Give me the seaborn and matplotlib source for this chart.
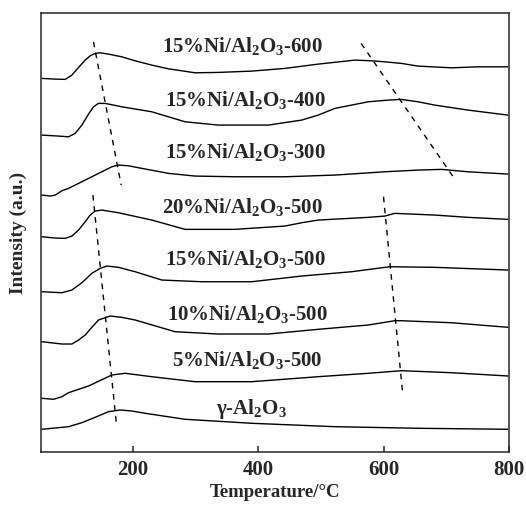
import numpy as np
import pandas as pd
import matplotlib
matplotlib.use('Agg')
import matplotlib.pyplot as plt
import seaborn as sns

# curves (T in degC, intensity in a.u., already offset for stacking)
t_600 = [54.4, 75.7, 91.6, 102.2, 112.9, 123.5, 131.4, 139.4, 147.4, 160.7, 181.9, 203.2, 229.7, 256.3,
         298.8, 336, 389.1, 442.2, 495.3, 553.8, 580.3, 601.6, 628.1, 654.7, 707.8, 750.3, 798.1]
i_600 = [373.7, 373, 372.7, 377, 384.7, 392, 396.3, 398.7, 399.3, 398, 395.3, 391.3, 387, 383.3,
         379.3, 379.7, 381, 383.7, 388, 392, 391.3, 390.3, 388.7, 386, 384.3, 385.3, 385.3]

t_400 = [54.4, 81, 96.9, 107.5, 118.2, 128.8, 136.8, 144.7, 155.4, 181.9, 229.7, 282.8, 336, 415.6,
         468.8, 495.3, 521.9, 548.4, 575, 606.9, 628.1, 654.7, 681.2, 734.4, 798.1]
i_400 = [317, 316, 315.3, 318.7, 327, 338, 345.3, 348.7, 348.7, 345.3, 340.3, 330.3, 327, 327,
         332, 337, 343.7, 347, 350.3, 352, 352.7, 350.3, 347, 342, 337]

t_300 = [54.4, 67.7, 75.7, 86.3, 96.9, 123.5, 150, 166, 176.6, 192.5, 213.8, 256.3, 298.8, 362.5,
         442.2, 521.9, 601.6, 654.7, 691.9, 734.4, 798.1]
i_300 = [257, 256, 257, 261.3, 263.7, 272, 280.3, 285.3, 287, 286.3, 283.7, 278.7, 276, 275.3,
         275.3, 277, 280.3, 282, 282.7, 280.3, 278]

t_20_500 = [54.4, 75.7, 91.6, 102.2, 112.9, 123.5, 131.4, 139.4, 150, 176.6, 229.7, 282.8, 362.5,
            442.2, 468.8, 495.3, 575, 601.6, 617.5, 681.2, 734.4, 798.1]
i_20_500 = [215.3, 214, 213.7, 216, 222, 230.3, 237, 241, 242, 239.3, 232, 222.7, 222.7,
            226, 229.3, 232, 234.7, 236, 238.7, 237, 234.7, 232.7]

t_15_500 = [54.4, 86.3, 102.2, 118.2, 134.1, 147.4, 158, 176.6, 203.2, 245.7, 309.4, 389.1, 468.8,
            548.4, 609.5, 681.2, 798.1]
i_15_500 = [160.3, 159.3, 162, 169.3, 178.7, 183.7, 186, 184.7, 180.3, 172, 170.3, 170.3, 176,
            180.3, 185.3, 184.7, 182]

t_10_500 = [54.4, 86.3, 102.2, 112.9, 123.5, 134.1, 144.7, 163.3, 181.9, 203.2, 266.9, 336, 415.6,
            495.3, 575, 617.5, 628.1, 707.8, 798.1]
i_10_500 = [110.3, 108, 108, 112, 117, 124.7, 132, 136, 134.7, 132, 120.3, 118, 118,
            122.7, 127, 131.3, 131.3, 129.3, 124.7]

t_5_500 = [54.4, 73, 86.3, 96.9, 128.8, 166, 187.2, 229.7, 298.8, 389.1, 495.3, 575, 628.1, 707.8, 798.1]
i_5_500 = [53.7, 52.7, 55.3, 59.3, 66, 77, 78.7, 75.3, 70.3, 70.3, 75.3, 78.7, 81.3, 79.3, 76]

t_al2o3 = [54.4, 96.9, 118.2, 139.4, 160.7, 179.3, 197.8, 219.1, 282.8, 389.1, 521.9, 654.7, 798.1]
i_al2o3 = [22.7, 25.3, 29.3, 34.7, 40.3, 42, 41, 38.7, 32.7, 28.7, 25.3, 23.7, 22.7]

samples = [
    '15%Ni/Al$_{2}$O$_{3}$-600', '15%Ni/Al$_{2}$O$_{3}$-400', '15%Ni/Al$_{2}$O$_{3}$-300',
    '20%Ni/Al$_{2}$O$_{3}$-500', '15%Ni/Al$_{2}$O$_{3}$-500', '10%Ni/Al$_{2}$O$_{3}$-500',
    '5%Ni/Al$_{2}$O$_{3}$-500', 'γ-Al$_{2}$O$_{3}$',
]
temps = [t_600, t_400, t_300, t_20_500, t_15_500, t_10_500, t_5_500, t_al2o3]
intens = [i_600, i_400, i_300, i_20_500, i_15_500, i_10_500, i_5_500, i_al2o3]

# label positions (T, intensity)
label_t = [375, 378.5, 378.5, 375, 380, 383, 381.5, 388]
label_i = [406, 352, 300, 245, 193, 138, 92, 43]

# dashed guide lines following the peak shift
guide_t = [(136.7, 180.9), (563.8, 714.3), (135.8, 172.9), (599.5, 630.3)]
guide_i = [(410.3, 267), (408.7, 272), (257, 30.3), (255.3, 57)]

rows = []
for name, tt, ii in zip(samples, temps, intens):
    for a, b in zip(tt, ii):
        rows.append({'sample': name, 'T': a, 'I': b})
df = pd.DataFrame(rows)

sns.set_style('ticks')
plt.rcParams.update({
    'font.family': ['Liberation Serif', 'DejaVu Serif'],
    'font.weight': 'bold',
    'mathtext.fontset': 'custom',
    'mathtext.rm': 'Liberation Serif:bold',
    'mathtext.it': 'Liberation Serif:bold',
    'mathtext.bf': 'Liberation Serif:bold',
    'axes.linewidth': 1.1,
    'lines.solid_joinstyle': 'round',
    'xtick.direction': 'in',
    'xtick.major.size': 4,
    'xtick.major.width': 1.1,
})

fig = plt.figure(figsize=(5.26, 5.05), dpi=100)
ax = fig.add_axes([0.078, 0.105, 0.89, 0.869])

sns.lineplot(data=df, x='T', y='I', hue='sample', units='sample', estimator=None, sort=False,
             palette=['black'] * len(samples), linewidth=1.0, legend=False, ax=ax)

for gt, gi in zip(guide_t, guide_i):
    ax.plot(gt, gi, color='black', linewidth=1.0, linestyle=(0, (4, 4)))

for name, lt, li in zip(samples, label_t, label_i):
    ax.text(lt, li, name, ha='center', va='center', fontsize=15, fontweight='bold')

ax.set_xlim(53, 800)
ax.set_ylim(0, 439)
ax.set_xticks([200, 400, 600, 800])
ax.set_yticks([])
ax.tick_params(axis='x', labelsize=15, pad=6)
for lab in ax.get_xticklabels():
    lab.set_fontweight('bold')
ax.set_xlabel('Temperature/°C', fontsize=13.5, fontweight='bold', labelpad=3)
ax.set_ylabel('Intensity (a.u.)', fontsize=14, fontweight='bold', labelpad=10)

fig.savefig('out.png', dpi=100)
